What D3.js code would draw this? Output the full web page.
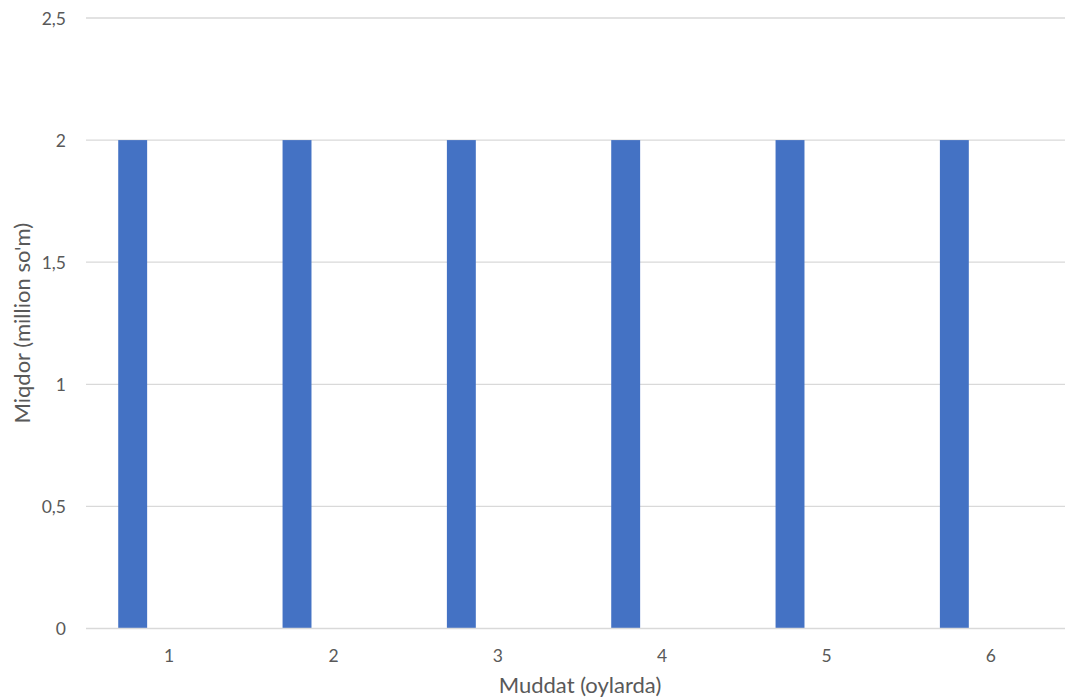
<!DOCTYPE html>
<html>
<head>
<meta charset="utf-8">
<script src="https://cdn.jsdelivr.net/npm/d3@7"></script>
<style>
  html, body { margin: 0; padding: 0; background: #fff; }
  svg { display: block; }
  text { font-family: Lato, "Open Sans", sans-serif; fill: #595959; }
</style>
</head>
<body>
<svg id="chart" width="1065" height="697"></svg>
<script>
const categories = ["1", "2", "3", "4", "5", "6"];
const values = [2, 2, 2, 2, 2, 2];
const yTicks = [0, 0.5, 1, 1.5, 2, 2.5];
const xTitle = "Muddat (oylarda)";
const yTitle = "Miqdor (million so'm)";

(function () {
const svg = d3.select("#chart");
const mLeft = 87, mRight = 1073, mTop = 18, mBottom = 628.5;

const x = d3.scaleBand().domain(categories).range([mLeft, mRight]).padding(0);
const y = d3.scaleLinear().domain([0, 2.5]).range([mBottom, mTop]);

// gridlines
svg.append("g").selectAll("line").data(yTicks.filter(d => d > 0)).join("line")
  .attr("x1", mLeft - 1).attr("x2", mRight)
  .attr("y1", d => y(d)).attr("y2", d => y(d))
  .attr("stroke", "#d9d9d9").attr("stroke-width", 1.3);

// bars
const bw = x.bandwidth();
svg.append("g").selectAll("rect").data(values).join("rect")
  .attr("x", (d, i) => x(categories[i]) + bw * 0.19)
  .attr("width", bw * 0.176)
  .attr("y", d => y(d))
  .attr("height", d => y(0) - y(d))
  .attr("fill", "#4472C4");

// x axis line
svg.append("line")
  .attr("x1", mLeft - 1).attr("x2", mRight)
  .attr("y1", y(0)).attr("y2", y(0))
  .attr("stroke", "#d9d9d9").attr("stroke-width", 1.3);

// y tick labels
svg.append("g").selectAll("text").data(yTicks).join("text")
  .attr("x", 66).attr("y", d => y(d))
  .attr("text-anchor", "end").attr("dominant-baseline", "central")
  .style("font-size", "17.5px")
  .text(d => String(d).replace(".", ","));

// x tick labels
svg.append("g").selectAll("text").data(categories).join("text")
  .attr("x", d => x(d) + bw / 2).attr("y", 655)
  .attr("text-anchor", "middle").attr("dominant-baseline", "central")
  .style("font-size", "17.5px")
  .text(d => d);

// axis titles
svg.append("text")
  .attr("x", (mLeft + mRight) / 2).attr("y", 693)
  .attr("text-anchor", "middle")
  .style("font-size", "22px")
  .text(xTitle);

svg.append("text")
  .attr("transform", `translate(30, ${(mTop + mBottom) / 2}) rotate(-90)`)
  .attr("text-anchor", "middle")
  .style("font-size", "22px")
  .text(yTitle);
})();
</script>
</body>
</html>
